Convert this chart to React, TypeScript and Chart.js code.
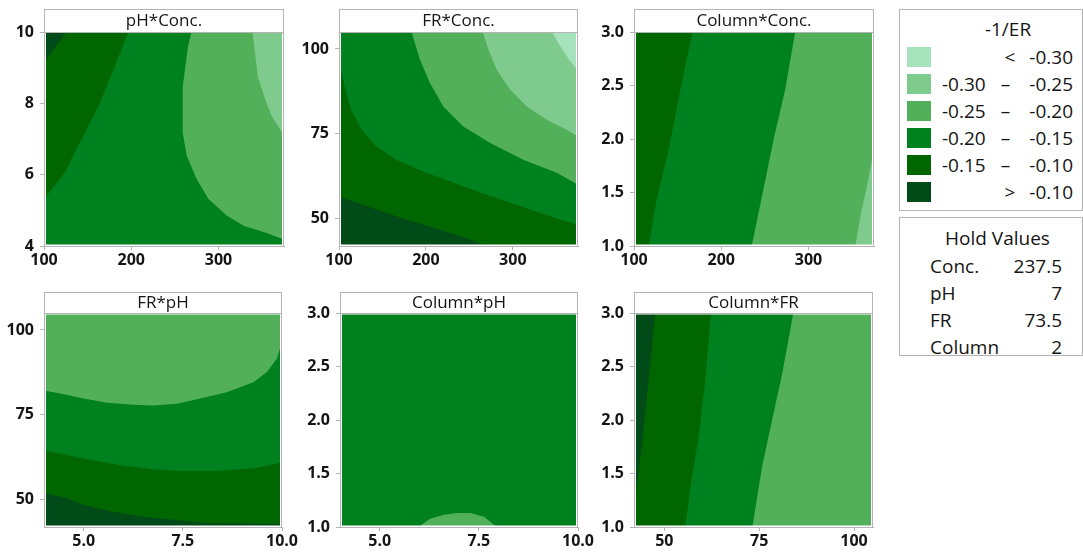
import React, { useEffect, useRef } from 'react';
import { Chart, registerables } from 'chart.js';

Chart.register(...registerables);

const FONT = "'Open Sans', 'Noto Sans', sans-serif";
const FRAME_COLOR = '#b4b4b4';
const TEXT_COLOR = '#151515';

// Contour level colours, lightest (< -0.30) to darkest (> -0.10)
const LEVEL_COLORS = ['#a6e3bc', '#7fcb8d', '#52b05a', '#008120', '#006600', '#004b17'];
const LEGEND_TITLE = '-1/ER';
const LEGEND_FROM = ['', '-0.30', '-0.25', '-0.20', '-0.15', ''];
const LEGEND_SEP = ['<', '–', '–', '–', '–', '>'];
const LEGEND_TO = ['-0.30', '-0.25', '-0.20', '-0.15', '-0.10', '-0.10'];

const HOLD_TITLE = 'Hold Values';
const HOLD_NAMES = ['Conc.', 'pH', 'FR', 'Column'];
const HOLD_VALUES = ['237.5', '7', '73.5', '2'];

const PANEL_TITLES = ['pH*Conc.', 'FR*Conc.', 'Column*Conc.', 'FR*pH', 'Column*pH', 'Column*FR'];

// factor ranges
const CONC_RANGE = [100, 375];
const PH_RANGE = [4, 10];
const FR_RANGE = [42, 105];
const COLUMN_RANGE = [1, 3];

// tick values
const CONC_TICKS = [100, 200, 300];
const PH_TICKS_Y = [4, 6, 8, 10];
const PH_TICKS_X = [5, 7.5, 10];
const FR_TICKS = [50, 75, 100];
const COLUMN_TICKS = [1, 1.5, 2, 2.5, 3];

// ---- contour boundaries: [x, y] ----
// pH*Conc. (x Conc, y pH)
const PHCONC_B5 = [[100, 9.15], [112, 9.55], [126, 10]];
const PHCONC_B4 = [[196.6, 10], [181, 9.03], [164, 8.0], [141, 6.89], [124, 6.06], [112, 5.69], [100, 5.32]];
const PHCONC_B3 = [[269, 10], [265, 9.6], [259, 8.47], [259, 7.17], [263.6, 6.52], [275, 5.87], [288.5, 5.32], [309.6, 4.85], [328.7, 4.57], [351.7, 4.39], [375, 4.18]];
const PHCONC_B2 = [[339, 10], [345, 8.75], [353.6, 8.1], [361, 7.64], [375, 7.1]];

// FR*Conc. (x Conc, y FR)
const FRCONC_B5 = [[100, 56.6], [139, 53.1], [178, 49.7], [216, 46.8], [247, 44.3], [270, 42]];
const FRCONC_B4 = [[100, 95.9], [106.5, 89], [114, 82.1], [126, 76.2], [143, 71.3], [166, 67.4], [197, 63.9], [228, 61], [258.5, 58.1], [293, 55.1], [331.5, 51.7], [375, 48.2]];
const FRCONC_B3 = [[183.5, 105], [193, 96.9], [204.6, 90], [220, 83.1], [243, 77.2], [274, 72.3], [312, 67.4], [351, 63.5], [375, 60]];
const FRCONC_B2 = [[265.4, 105], [272, 99.8], [281.5, 93.9], [297, 88], [316, 83.1], [339, 79.2], [362, 76.2], [375, 74.3]];
const FRCONC_B1 = [[345, 105], [354.6, 100.8], [366, 96.4], [375, 93.9]];

// Column*Conc. (x Conc, y Column)
const COLCONC_B4 = [[167, 3], [150.6, 2.36], [139, 1.87], [125.7, 1.43], [117, 1]];
const COLCONC_B3 = [[284.7, 3], [273.2, 2.46], [259.8, 1.99], [248.3, 1.53], [234.9, 1]];
const COLCONC_B2 = [[375, 1.9], [367, 1.56], [359.4, 1.28], [353.6, 1]];

// FR*pH (x pH, y FR)
const FRPH_B5 = [[4, 52], [4.58, 50.5], [5, 48.5], [5.67, 46.6], [6.43, 45.1], [7.27, 44.1], [8.11, 43.2], [10, 42.9]];
const FRPH_B4 = [[4, 64.6], [5, 62.2], [5.84, 60.3], [6.68, 59.1], [7.35, 58.5], [8.36, 58.5], [9.29, 59.3], [10, 61]];
const FRPH_B3 = [[4, 82.2], [4.41, 81.3], [5, 79.8], [5.59, 78.6], [6.26, 78], [6.76, 77.8], [7.35, 78.3], [7.94, 79.8], [8.61, 81.7], [9.29, 84.7], [9.62, 87.6], [9.87, 91.5], [10, 96.4]];

// Column*pH (x pH, y Column)
const COLPH_BUMP = [[5.98, 1], [6.28, 1.08], [6.62, 1.115], [6.95, 1.13], [7.29, 1.13], [7.63, 1.095], [7.88, 1.02], [8, 1]];

// Column*FR (x FR, y Column)
const COLFR_B3 = [[84, 3], [81.1, 2.44], [78.4, 2], [75.8, 1.57], [73.2, 1]];
const COLFR_B4 = [[62.3, 3], [60.8, 2.38], [59.1, 1.85], [56.9, 1.38], [55.5, 1]];
const COLFR_B5 = [[47.6, 3], [46.3, 2.53], [45, 2.07], [43.7, 1.66], [42.8, 1.38], [42, 1.15]];

type Pt = number[];
type Layer = { level: number; pts: Pt[] };

const rect = (xr: number[], yr: number[]): Pt[] => [
  [xr[0], yr[0]], [xr[1], yr[0]], [xr[1], yr[1]], [xr[0], yr[1]],
];

type PanelSpec = {
  title: string;
  xRange: number[]; yRange: number[];
  xTicks: number[]; yTicks: number[];
  xDec: number; yDec: number;
  layers: Layer[];
};

const PANELS: PanelSpec[] = [
  {
    title: PANEL_TITLES[0], xRange: CONC_RANGE, yRange: PH_RANGE, xTicks: CONC_TICKS, yTicks: PH_TICKS_Y, xDec: 0, yDec: 0,
    layers: [
      { level: 3, pts: rect(CONC_RANGE, PH_RANGE) },
      { level: 4, pts: [...PHCONC_B4, [CONC_RANGE[0], PH_RANGE[1]]] },
      { level: 5, pts: [...PHCONC_B5, [CONC_RANGE[0], PH_RANGE[1]]] },
      { level: 2, pts: [...PHCONC_B3, [CONC_RANGE[1], PH_RANGE[1]]] },
      { level: 1, pts: [...PHCONC_B2, [CONC_RANGE[1], PH_RANGE[1]]] },
    ],
  },
  {
    title: PANEL_TITLES[1], xRange: CONC_RANGE, yRange: FR_RANGE, xTicks: CONC_TICKS, yTicks: FR_TICKS, xDec: 0, yDec: 0,
    layers: [
      { level: 5, pts: rect(CONC_RANGE, FR_RANGE) },
      { level: 4, pts: [...FRCONC_B5, [CONC_RANGE[1], FR_RANGE[0]], [CONC_RANGE[1], FR_RANGE[1]], [CONC_RANGE[0], FR_RANGE[1]]] },
      { level: 3, pts: [...FRCONC_B4, [CONC_RANGE[1], FR_RANGE[1]], [CONC_RANGE[0], FR_RANGE[1]]] },
      { level: 2, pts: [...FRCONC_B3, [CONC_RANGE[1], FR_RANGE[1]]] },
      { level: 1, pts: [...FRCONC_B2, [CONC_RANGE[1], FR_RANGE[1]]] },
      { level: 0, pts: [...FRCONC_B1, [CONC_RANGE[1], FR_RANGE[1]]] },
    ],
  },
  {
    title: PANEL_TITLES[2], xRange: CONC_RANGE, yRange: COLUMN_RANGE, xTicks: CONC_TICKS, yTicks: COLUMN_TICKS, xDec: 0, yDec: 1,
    layers: [
      { level: 4, pts: rect(CONC_RANGE, COLUMN_RANGE) },
      { level: 3, pts: [...COLCONC_B4, [CONC_RANGE[1], COLUMN_RANGE[0]], [CONC_RANGE[1], COLUMN_RANGE[1]]] },
      { level: 2, pts: [...COLCONC_B3, [CONC_RANGE[1], COLUMN_RANGE[0]], [CONC_RANGE[1], COLUMN_RANGE[1]]] },
      { level: 1, pts: [...COLCONC_B2, [CONC_RANGE[1], COLUMN_RANGE[0]]] },
    ],
  },
  {
    title: PANEL_TITLES[3], xRange: PH_RANGE, yRange: FR_RANGE, xTicks: PH_TICKS_X, yTicks: FR_TICKS, xDec: 1, yDec: 0,
    layers: [
      { level: 5, pts: rect(PH_RANGE, FR_RANGE) },
      { level: 4, pts: [...FRPH_B5, [PH_RANGE[1], FR_RANGE[1]], [PH_RANGE[0], FR_RANGE[1]]] },
      { level: 3, pts: [...FRPH_B4, [PH_RANGE[1], FR_RANGE[1]], [PH_RANGE[0], FR_RANGE[1]]] },
      { level: 2, pts: [...FRPH_B3, [PH_RANGE[1], FR_RANGE[1]], [PH_RANGE[0], FR_RANGE[1]]] },
    ],
  },
  {
    title: PANEL_TITLES[4], xRange: PH_RANGE, yRange: COLUMN_RANGE, xTicks: PH_TICKS_X, yTicks: COLUMN_TICKS, xDec: 1, yDec: 1,
    layers: [
      { level: 3, pts: rect(PH_RANGE, COLUMN_RANGE) },
      { level: 2, pts: COLPH_BUMP },
    ],
  },
  {
    title: PANEL_TITLES[5], xRange: FR_RANGE, yRange: COLUMN_RANGE, xTicks: FR_TICKS, yTicks: COLUMN_TICKS, xDec: 0, yDec: 1,
    layers: [
      { level: 2, pts: rect(FR_RANGE, COLUMN_RANGE) },
      { level: 3, pts: [...COLFR_B3, [FR_RANGE[0], COLUMN_RANGE[0]], [FR_RANGE[0], COLUMN_RANGE[1]]] },
      { level: 4, pts: [...COLFR_B4, [FR_RANGE[0], COLUMN_RANGE[0]], [FR_RANGE[0], COLUMN_RANGE[1]]] },
      { level: 5, pts: [...COLFR_B5, [FR_RANGE[0], COLUMN_RANGE[1]]] },
    ],
  },
];

// layout (plot-area boxes in page pixels)
const BOXES = [
  { left: 44, top: 32, w: 240, h: 214, strip: 23, gapTop: false },
  { left: 339, top: 32, w: 239, h: 214, strip: 23, gapTop: false },
  { left: 634, top: 32, w: 240, h: 214, strip: 23, gapTop: false },
  { left: 44, top: 313, w: 238, h: 214, strip: 21, gapTop: true },
  { left: 340, top: 313, w: 238, h: 214, strip: 21, gapTop: true },
  { left: 634, top: 313, w: 239, h: 214, strip: 21, gapTop: true },
];
const Y_AXIS_W = 44;
const X_AXIS_H = 30;
const PAD_TOP = 30;
const PAD_RIGHT = 22;

function makeFramePlugin(title: string, strip: number, gapTop: boolean) {
  return {
    id: 'panelFrame',
    afterDatasetsDraw(chart: any) {
      const { ctx, chartArea: a } = chart;
      ctx.save();
      ctx.fillStyle = '#ffffff';
      ctx.fillRect(a.left, a.top, 2, a.bottom - a.top);
      ctx.fillRect(a.right - 2, a.top, 2, a.bottom - a.top);
      ctx.fillRect(a.left, a.bottom - 1.5, a.right - a.left, 1.5);
      if (gapTop) ctx.fillRect(a.left, a.top, a.right - a.left, 1.5);
      ctx.restore();
    },
    afterDraw(chart: any) {
      const { ctx, chartArea: a } = chart;
      ctx.save();
      const top = a.top - strip;
      ctx.fillStyle = '#ffffff';
      ctx.fillRect(a.left, top, a.right - a.left, strip);
      ctx.strokeStyle = FRAME_COLOR;
      ctx.lineWidth = 1;
      ctx.strokeRect(a.left + 0.5, top + 0.5, a.right - a.left - 1, strip);
      ctx.beginPath();
      ctx.moveTo(a.right - 0.5, a.top);
      ctx.lineTo(a.right - 0.5, a.bottom);
      ctx.stroke();
      ctx.fillStyle = TEXT_COLOR;
      ctx.font = `17px ${FONT}`;
      ctx.textAlign = 'center';
      ctx.textBaseline = 'middle';
      ctx.fillText(title, (a.left + a.right) / 2, top + strip / 2 + 1);
      ctx.restore();
    },
  };
}

function axisOptions(range: number[], ticks: number[], dec: number, isX: boolean) {
  return {
    type: 'linear',
    min: range[0],
    max: range[1],
    afterBuildTicks: (scale: any) => {
      scale.ticks = ticks.map((v) => ({ value: v }));
    },
    afterFit: (scale: any) => {
      if (isX) scale.height = X_AXIS_H;
      else scale.width = Y_AXIS_W;
    },
    grid: { drawOnChartArea: false, drawTicks: true, tickLength: 4, color: FRAME_COLOR, lineWidth: 1 },
    border: { display: true, color: FRAME_COLOR, width: 1, z: 1 },
    ticks: {
      autoSkip: false,
      maxRotation: 0,
      padding: isX ? 1 : 6,
      color: TEXT_COLOR,
      font: { family: FONT, size: 16, weight: 'bold' },
      callback: (v: any) => Number(v).toFixed(dec),
    },
  };
}

function ContourPanel({ spec, box }: { spec: PanelSpec; box: any }) {
  const ref = useRef<HTMLCanvasElement>(null);
  const W = Y_AXIS_W + box.w + PAD_RIGHT;
  const H = PAD_TOP + box.h + X_AXIS_H;
  useEffect(() => {
    const n = spec.layers.length;
    const datasets = spec.layers.map((l, i) => ({
      data: l.pts.map(([x, y]) => ({ x, y })),
      showLine: true,
      fill: 'shape',
      backgroundColor: LEVEL_COLORS[l.level],
      borderColor: LEVEL_COLORS[l.level],
      borderWidth: 0,
      pointRadius: 0,
      tension: 0,
      order: n - i,
    }));
    const chart = new Chart(ref.current as HTMLCanvasElement, {
      type: 'scatter',
      data: { datasets } as any,
      options: {
        animation: false,
        responsive: false,
        maintainAspectRatio: false,
        devicePixelRatio: 1,
        events: [],
        layout: { padding: { top: PAD_TOP, right: PAD_RIGHT, left: 0, bottom: 0 } },
        plugins: { legend: { display: false }, tooltip: { enabled: false } },
        scales: {
          x: axisOptions(spec.xRange, spec.xTicks, spec.xDec, true),
          y: axisOptions(spec.yRange, spec.yTicks, spec.yDec, false),
        },
      } as any,
      plugins: [makeFramePlugin(spec.title, box.strip, box.gapTop)],
    });
    return () => chart.destroy();
  }, []);
  return (
    <canvas
      ref={ref}
      width={W}
      height={H}
      style={{ position: 'absolute', left: box.left - Y_AXIS_W, top: box.top - PAD_TOP, width: W, height: H }}
    />
  );
}

function TextAt({ x, y, align, children, style }: any) {
  const base: any = { position: 'absolute', top: y - 13, height: 26, lineHeight: '26px', whiteSpace: 'nowrap' };
  if (align === 'left') base.left = x;
  else if (align === 'right') base.right = x;
  else { base.left = x - 100; base.width = 200; base.textAlign = 'center'; }
  return <div style={{ ...base, ...style }}>{children}</div>;
}

function Legend() {
  return (
    <div style={{
      position: 'absolute', left: 899, top: 9, width: 184, height: 202, boxSizing: 'border-box',
      border: `1px solid ${FRAME_COLOR}`, fontFamily: FONT, fontSize: 19, color: TEXT_COLOR, background: '#fff',
    }}>
      <TextAt x={108} y={18.5} align="center">{LEGEND_TITLE}</TextAt>
      {LEVEL_COLORS.map((c, i) => (
        <React.Fragment key={i}>
          <div style={{ position: 'absolute', left: 7, top: 37 + 27 * i, width: 24, height: 20, background: c }} />
          {LEGEND_FROM[i] && <TextAt x={42} y={47 + 27 * i} align="left">{LEGEND_FROM[i]}</TextAt>}
          <TextAt x={LEGEND_SEP[i] === '–' ? 105.5 : 110} y={47 + 27 * i} align="center">{LEGEND_SEP[i]}</TextAt>
          <TextAt x={9} y={47 + 27 * i} align="right">{LEGEND_TO[i]}</TextAt>
        </React.Fragment>
      ))}
    </div>
  );
}

function HoldValues() {
  return (
    <div style={{
      position: 'absolute', left: 899, top: 217, width: 184, height: 139, boxSizing: 'border-box',
      border: `1px solid ${FRAME_COLOR}`, fontFamily: FONT, fontSize: 19, color: TEXT_COLOR, background: '#fff',
    }}>
      <TextAt x={97.5} y={19.7} align="center">{HOLD_TITLE}</TextAt>
      {HOLD_NAMES.map((n, i) => (
        <React.Fragment key={n}>
          <TextAt x={30} y={47.7 + 27 * i} align="left">{n}</TextAt>
          <TextAt x={20} y={47.7 + 27 * i} align="right">{HOLD_VALUES[i]}</TextAt>
        </React.Fragment>
      ))}
    </div>
  );
}

export default function App() {
  return (
    <div style={{ position: 'absolute', left: 0, top: 0, width: 1083, height: 556, overflow: 'hidden', background: '#fff' }}>
      {PANELS.map((p, i) => (
        <ContourPanel key={i} spec={p} box={BOXES[i]} />
      ))}
      <Legend />
      <HoldValues />
    </div>
  );
}
